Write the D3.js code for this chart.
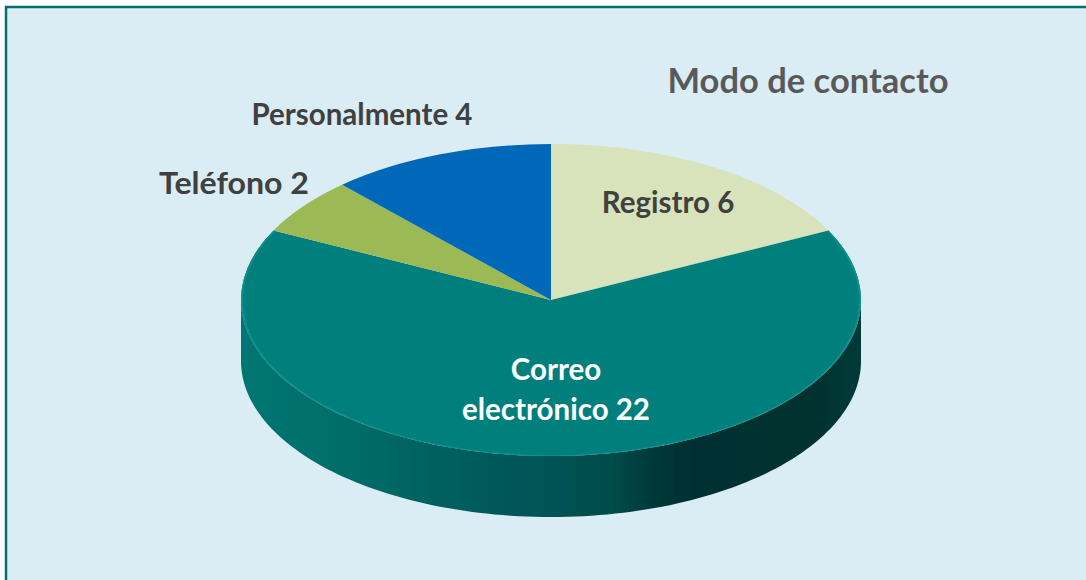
<!DOCTYPE html>
<html><head><meta charset="utf-8">
<script src="https://cdn.jsdelivr.net/npm/d3@7"></script>
<style>html,body{margin:0;padding:0;background:#fff}svg{display:block}</style>
</head><body><svg id="c" width="1086" height="580"></svg>
<script>
const categories = ["Registro","Correo electrónico","Teléfono","Personalmente"];
const values = [6,22,2,4];
const sliceColors = ["#d8e3bb","#007f7b","#9bb955","#0068b8"];
const labelLines = [["Registro 6"],["Correo","electrónico 22"],["Teléfono 2"],["Personalmente 4"]];
const labelColors = ["#404040","#ffffff","#404040","#404040"];
const labelPos = [[668,213],[556,380],[234,194],[362,125]];
const title = "Modo de contacto";

const W=1086,H=580,cx=551,cy=300,rx=310,ry=156,depth=61;
const svg=d3.select("#c");
const defs=svg.append("defs");
const wall=defs.append("linearGradient").attr("id","wall").attr("gradientUnits","userSpaceOnUse")
  .attr("x1",cx-rx).attr("x2",cx+rx).attr("y1",0).attr("y2",0);
[[0,"#047672"],[.18,"#036c68"],[.42,"#01585a"],[.6,"#024b4b"],[.66,"#01393a"],[.73,"#012f31"],[.92,"#02312f"],[1,"#023a39"]]
 .forEach(s=>wall.append("stop").attr("offset",s[0]).attr("stop-color",s[1]));
const rim=defs.append("linearGradient").attr("id","rim").attr("gradientUnits","userSpaceOnUse")
  .attr("x1",cx-rx).attr("x2",cx+rx).attr("y1",0).attr("y2",0);
[[0,"#0a8f8a"],[.45,"#0a8f8a"],[.7,"#007f7b"],[.9,"#006360"],[1,"#003f3e"]]
 .forEach(s=>rim.append("stop").attr("offset",s[0]).attr("stop-color",s[1]));
const soft=defs.append("filter").attr("id","soft");
soft.append("feGaussianBlur").attr("stdDeviation",0.6);

svg.append("rect").attr("x",6).attr("y",7).attr("width",1090).attr("height",584)
  .attr("fill","#daedf4").attr("stroke","#00706c").attr("stroke-width",2.5);

const pie=d3.pie().sort(null).value(d=>d);
const arcs=pie(values);
const arc=d3.arc().innerRadius(0).outerRadius(rx);
const sy=ry/rx;

const mark=svg.append("g").attr("filter","url(#soft)");

// Side wall of the cylinder, following the front half of the largest slice
const front=arcs[1];
const a0=Math.max(front.startAngle,Math.PI/2), a1=Math.min(front.endAngle,Math.PI*1.5);
const steps=d3.range(0,121).map(i=>a0+(a1-a0)*i/120);
const pt=(a,dy)=>[cx+rx*Math.sin(a),cy-ry*Math.cos(a)+dy];
const line=d3.line();
mark.append("path")
  .attr("d",line(steps.map(a=>pt(a,depth)).concat(steps.slice().reverse().map(a=>pt(a,0))))+"Z")
  .attr("fill","url(#wall)");

const g=mark.append("g").attr("transform",`translate(${cx},${cy}) scale(1,${sy})`);
g.selectAll("path").data(arcs).join("path").attr("d",arc).attr("fill",(d,i)=>sliceColors[i]);

// Bevel on the rim of the top face
const bevelArc=d3.arc().innerRadius(rx-2).outerRadius(rx);
g.append("path")
  .attr("d",bevelArc({startAngle:front.startAngle,endAngle:front.endAngle}))
  .attr("fill","url(#rim)");

labelLines.forEach((ls,i)=>{
  const t=svg.append("text").attr("text-anchor","middle")
    .attr("font-family","Lato, 'Open Sans', sans-serif").attr("font-weight",700)
    .attr("font-size",29.5).attr("fill",labelColors[i]);
  ls.forEach((s,j)=>t.append("tspan").attr("x",labelPos[i][0]).attr("y",labelPos[i][1]+j*40).text(s));
  if(categories[i]==="Teléfono") t.attr("textLength",150).attr("lengthAdjust","spacingAndGlyphs");
});
svg.append("text").attr("x",808).attr("y",93).attr("text-anchor","middle")
  .attr("font-family","Lato, 'Open Sans', sans-serif").attr("font-weight",700)
  .attr("font-size",34.5).attr("fill","#595959").text(title);
</script></body></html>
